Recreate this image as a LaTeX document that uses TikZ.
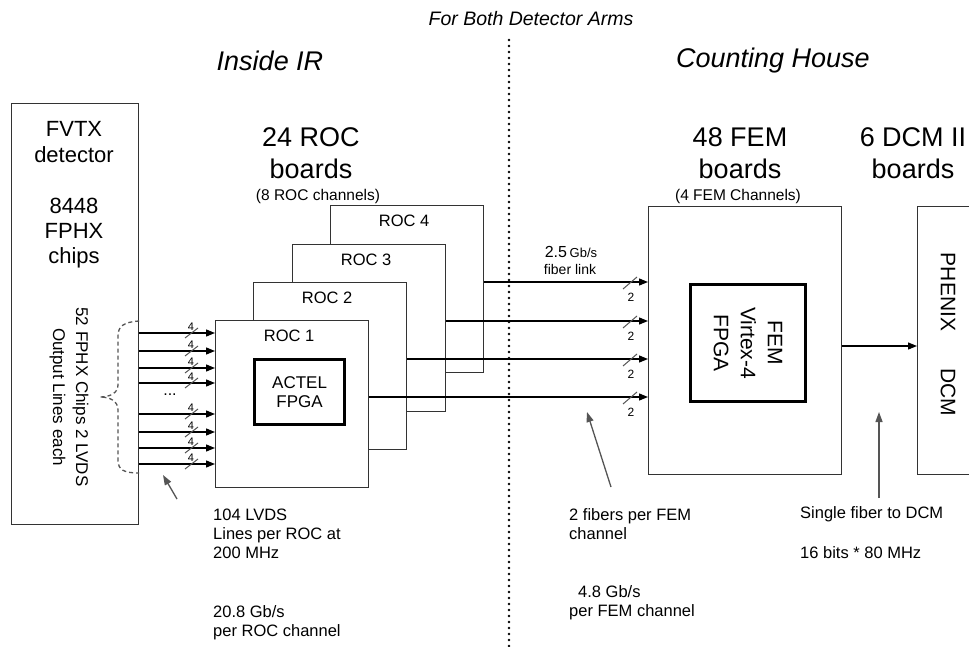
\documentclass[tikz,border=0pt]{standalone}
\usepackage{fontspec}
\setmainfont{Liberation Sans}
\usetikzlibrary{arrows.meta,calc}
\definecolor{linec}{HTML}{333333}
\definecolor{notec}{HTML}{555555}
\newcommand{\fs}[2]{\fontsize{#1}{#2}\selectfont}
\begin{document}
\begin{tikzpicture}[x=1pt,y=-1pt,
  box/.style={draw=linec, line width=1.2pt, fill=white, inner sep=0pt, anchor=north west},
  fpgabox/.style={draw=black, line width=3.2pt, fill=white, inner sep=0pt, anchor=north west},
  arr/.style={draw=black, line width=1.3pt, -{Triangle[length=9pt,width=7pt]}},
  notearr/.style={draw=notec, line width=1.3pt, -{Triangle[length=10pt,width=7pt]}},
  txt/.style={inner sep=0pt, text=black},
  slash/.style={draw=notec, line width=1pt},
  smalllab/.style={inner sep=0pt, font=\fs{11}{12}}
]
\useasboundingbox (0,0) rectangle (969,647);
\fill[white] (0,0) rectangle (969,647);

% headings
\node[txt, font=\fs{19.5}{22}\itshape] (both) at (531,19) {For Both Detector Arms};
\node[txt, font=\fs{27}{30}\itshape] (inside) at (270,61) {Inside IR};
\node[txt, font=\fs{27}{30}\itshape] (counting) at (773,61) {Counting House};
\draw[line width=2.6pt, line cap=round, dash pattern=on 0pt off 6pt, draw=black] (509,40) -- (509,647);

\node[txt, font=\fs{27}{32}, align=center] (rochead) at (311,153) {24 ROC\\boards};
\node[txt, font=\fs{15.5}{17}] (rochan) at (318,196) {(8 ROC channels)};
\node[txt, font=\fs{27}{32}, align=center] (femhead) at (740,153) {48 FEM\\boards};
\node[txt, font=\fs{15.5}{17}] (femchan) at (738,196) {(4 FEM Channels)};
\node[txt, font=\fs{27}{32}, align=center] (dcmhead) at (913,153) {6 DCM II\\boards};

% FVTX detector
\node[box, minimum width=127pt, minimum height=421pt] (fvtx) at (11,103) {};
\node[txt, font=\fs{22}{26}, align=center] (fvtxt) at (74,142) {FVTX\\detector};
\node[txt, font=\fs{22}{25}, align=center] (fphx) at (74,233) {8448\\FPHX\\chips};
\node[txt, font=\fs{17}{23}, align=center, rotate=-90] (lvds) at (69,397) {52 FPHX Chips 2 LVDS\\Output Lines each};
\draw[draw=notec, line width=1.3pt, dash pattern=on 4pt off 3pt]
  (fvtx.east |- 0,321) .. controls (124,322) and (118,326) .. (118,336)
  -- (118,385) .. controls (118,393) and (110,397) .. (100,397)
  .. controls (110,397) and (118,401) .. (118,410)
  -- (118,460) .. controls (118,470) and (124,473) .. (fvtx.east |- 0,473);

% ROC boards
\node[box, minimum width=153pt, minimum height=167pt] (roc4) at (330,205) {};
\node[box, minimum width=153pt, minimum height=167pt] (roc3) at (292,244) {};
\node[box, minimum width=153pt, minimum height=167pt] (roc2) at (253,282) {};
\node[box, minimum width=153pt, minimum height=167pt] (roc1) at (215,320) {};
\node[txt, font=\fs{16.5}{19}] (roc4l) at ([xshift=-3pt,yshift=-16pt]roc4.north) {ROC 4};
\node[txt, font=\fs{16.5}{19}] (roc3l) at ([xshift=-3pt,yshift=-16pt]roc3.north) {ROC 3};
\node[txt, font=\fs{16.5}{19}] (roc2l) at ([xshift=-3pt,yshift=-16pt]roc2.north) {ROC 2};
\node[txt, font=\fs{16.5}{19}] (roc1l) at ([xshift=-3pt,yshift=-16pt]roc1.north) {ROC 1};
\node[fpgabox, minimum width=90pt, minimum height=65pt] (actel) at (253,358) {};
\node[txt, font=\fs{17}{19}, align=center] (actelt) at (actel.center) {ACTEL\\FPGA};

% input lines
\foreach \yy/\nm in {333/a,351/b,368/c,383/d,414/e,432/f,448/g,464/h}{
  \draw[arr] (fvtx.east |- 0,\yy) -- (roc1.west |- 0,\yy);
  \draw[slash] (185,\yy+5) -- (198,\yy-5);
  \node[smalllab] (four\nm) at (191,\yy-6) {4};
}
\node[txt, font=\fs{16}{18}] (dots) at (170,395) {...};
\draw[notearr] (177,499) -- (163,475);

% FEM
\node[box, minimum width=193pt, minimum height=268pt] (fem) at (648,206) {};
\node[fpgabox, minimum width=115pt, minimum height=117pt] (virtex) at (689,283) {};
\node[txt, font=\fs{21}{27}, align=center, rotate=-90] (virtext) at (virtex.center) {FEM\\Virtex-4\\FPGA};

% ROC -> FEM fibers
\foreach \r/\yy in {roc4/282,roc3/321,roc2/359,roc1/397}{
  \draw[arr] (\r.east |- 0,\yy) -- (fem.west |- 0,\yy);
  \draw[slash] (623,\yy+7) -- (637,\yy-5);
  \node[smalllab, font=\fs{12}{13}] (two\r) at (631,\yy+15) {2};
}
\node[txt, anchor=base] (gbs) at (571,258) {\fs{16}{18}2.5\,\fs{13}{15}Gb/s};
\node[txt, font=\fs{14}{16}] (fiberlink) at (570,269) {fiber link};

% DCM
\node[box, minimum width=80pt, minimum height=268pt] (dcm) at (917,206) {};
\node[txt, font=\fs{21}{24}, rotate=-90] (phenix) at (948,292) {PHENIX};
\node[txt, font=\fs{21}{24}, rotate=-90] (dcmt) at (948,392) {DCM};
\draw[arr, line width=1.2pt] (fem.east |- 0,346) -- (dcm.west |- 0,346);

% notes
\draw[notearr] (611,487) -- (587,412);
\draw[notearr] (879,498) -- (879,412);

\node[txt, font=\fs{16.5}{19}, align=left, anchor=west] (lvdsn) at (213,534) {104 LVDS\\Lines per ROC at\\200 MHz};
\node[txt, font=\fs{16.5}{19}, align=left, anchor=west] (rocrate) at (213,622.5) {20.8 Gb/s\\per ROC channel};
\node[txt, font=\fs{16.5}{19}, align=left, anchor=west] (fibers) at (569,524.5) {2 fibers per FEM\\channel};
\node[txt, font=\fs{16.5}{19}, align=left, anchor=west] (femrate) at (569,602.5) {\hspace*{9pt}4.8 Gb/s\\per FEM channel};
\node[txt, font=\fs{16.5}{19}, anchor=west] (single) at (800,514) {Single fiber to DCM};
\node[txt, font=\fs{16.5}{19}, anchor=west] (bits) at (800,553) {16 bits * 80 MHz};
\end{tikzpicture}
\end{document}
